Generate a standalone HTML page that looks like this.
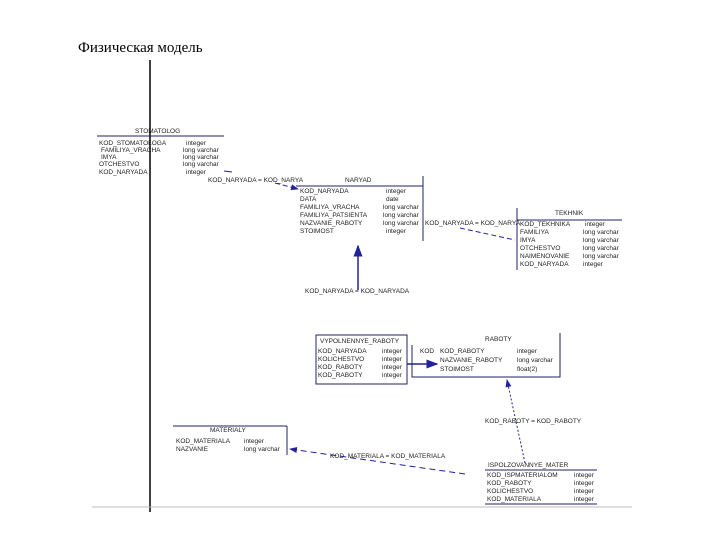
<!DOCTYPE html>
<html><head><meta charset="utf-8"><style>
html,body{margin:0;padding:0;background:#fff;width:720px;height:540px;overflow:hidden}
svg text{font-family:"Liberation Sans",sans-serif;font-size:6.5px;fill:#222}
</style></head><body>
<svg width="720" height="540" viewBox="0 0 720 540">
<defs><marker id="a" markerWidth="8" markerHeight="6" refX="7" refY="3" orient="auto"><path d="M0,0 L8,3 L0,6 Z" fill="#22229a"/></marker></defs>
<text x="78" y="52" style="font-family:'Liberation Serif',serif;font-size:15px;fill:#000">Физическая модель</text>
<line x1="150" y1="60" x2="150" y2="512" stroke="#000" stroke-width="1.5"/>
<line x1="92" y1="507" x2="632" y2="507" stroke="#bbb" stroke-width="1"/>

<!-- STOMATOLOG -->
<text x="135" y="133">STOMATOLOG</text>
<line x1="97" y1="136" x2="224" y2="136" stroke="#22226a"/>
<text x="99" y="145">KOD_STOMATOLOGA</text><text x="186" y="145">integer</text>
<text x="101" y="152">FAMILIYA_VRACHA</text><text x="183" y="152">long varchar</text>
<text x="101" y="159">IMYA</text><text x="183" y="159">long varchar</text>
<text x="99" y="166">OTCHESTVO</text><text x="183" y="166">long varchar</text>
<text x="99" y="174">KOD_NARYADA</text><text x="186" y="174">integer</text>

<!-- conn1 -->
<text x="208" y="182">KOD_NARYADA = KOD_NARYA</text>
<line x1="224" y1="171" x2="232" y2="172" stroke="#22229a"/>
<line x1="275" y1="183" x2="298" y2="189" stroke="#22229a" stroke-dasharray="5,3" marker-end="url(#a)"/>

<!-- NARYAD -->
<text x="345" y="182">NARYAD</text>
<line x1="296" y1="186" x2="423" y2="186" stroke="#22226a"/>
<line x1="423" y1="176" x2="423" y2="241" stroke="#22226a"/>
<text x="300" y="193">KOD_NARYADA</text><text x="386" y="193">integer</text>
<text x="300" y="201">DATA</text><text x="386" y="201">date</text>
<text x="300" y="209">FAMILIYA_VRACHA</text><text x="383" y="209">long varchar</text>
<text x="300" y="217">FAMILIYA_PATSIENTA</text><text x="383" y="217">long varchar</text>
<text x="300" y="225">NAZVANIE_RABOTY</text><text x="383" y="225">long varchar</text>
<text x="300" y="233">STOIMOST</text><text x="386" y="233">integer</text>

<line x1="358" y1="290" x2="358" y2="246" stroke="#22229a" stroke-width="1.5" marker-end="url(#a)"/>
<text x="305" y="293">KOD_NARYADA = KOD_NARYADA</text>

<!-- conn2 -->
<text x="425" y="225">KOD_NARYADA = KOD_NARYA</text>
<line x1="460" y1="228" x2="515" y2="240" stroke="#22229a" stroke-dasharray="5,3"/>

<!-- TEKHNIK -->
<text x="555" y="215">TEKHNIK</text>
<line x1="517" y1="220" x2="622" y2="220" stroke="#22226a"/>
<line x1="517" y1="208" x2="517" y2="270" stroke="#22226a"/>
<text x="520" y="226">KOD_TEKHNIKA</text><text x="585" y="226">integer</text>
<text x="520" y="234">FAMILIYA</text><text x="583" y="234">long varchar</text>
<text x="520" y="242">IMYA</text><text x="583" y="242">long varchar</text>
<text x="520" y="250">OTCHESTVO</text><text x="583" y="250">long varchar</text>
<text x="520" y="258">NAIMENOVANIE</text><text x="583" y="258">long varchar</text>
<text x="520" y="266">KOD_NARYADA</text><text x="583" y="266">integer</text>

<!-- VYPOLNENNYE -->
<rect x="316" y="335" width="91" height="49" fill="none" stroke="#22226a"/>
<text x="320" y="343">VYPOLNENNYE_RABOTY</text>
<text x="318" y="353">KOD_NARYADA</text><text x="382" y="353">integer</text>
<text x="318" y="361">KOLICHESTVO</text><text x="382" y="361">integer</text>
<text x="318" y="369">KOD_RABOTY</text><text x="382" y="369">integer</text>
<text x="318" y="377">KOD_RABOTY</text><text x="382" y="377">integer</text>
<line x1="407" y1="364" x2="437" y2="364" stroke="#22229a" stroke-width="1.5" marker-end="url(#a)"/>

<!-- RABOTY -->
<polyline points="412,345 412,377 560,377 560,333" fill="none" stroke="#22226a"/>
<text x="485" y="341">RABOTY</text>
<text x="420" y="353">KOD</text><text x="440" y="353">KOD_RABOTY</text><text x="517" y="353">integer</text>
<text x="440" y="362">NAZVANIE_RABOTY</text><text x="517" y="362">long varchar</text>
<text x="440" y="371">STOIMOST</text><text x="517" y="371">float(2)</text>
<line x1="525" y1="463" x2="507" y2="380" stroke="#22229a" stroke-dasharray="2,2" marker-end="url(#a)"/>
<text x="485" y="423">KOD_RABOTY = KOD_RABOTY</text>

<!-- MATERIALY -->
<text x="210" y="432">MATERIALY</text>
<line x1="173" y1="426" x2="287" y2="426" stroke="#22226a"/>
<line x1="287" y1="426" x2="287" y2="455" stroke="#22226a"/>
<text x="176" y="443">KOD_MATERIALA</text><text x="244" y="443">integer</text>
<text x="176" y="451">NAZVANIE</text><text x="244" y="451">long varchar</text>
<line x1="465" y1="474" x2="290" y2="449" stroke="#22229a" stroke-dasharray="6,4" marker-end="url(#a)"/>
<text x="330" y="458">KOD_MATERIALA = KOD_MATERIALA</text>

<!-- ISPOLZOVANNYE -->
<text x="488" y="467">ISPOLZOVANNYE_MATER</text>
<line x1="485" y1="470" x2="597" y2="470" stroke="#22226a"/>
<text x="487" y="477">KOD_ISPMATERIALOM</text><text x="574" y="477">integer</text>
<text x="487" y="485">KOD_RABOTY</text><text x="574" y="485">integer</text>
<text x="487" y="493">KOLICHESTVO</text><text x="574" y="493">integer</text>
<text x="487" y="501">KOD_MATERIALA</text><text x="574" y="501">integer</text>
<line x1="485" y1="504" x2="597" y2="504" stroke="#22226a"/>
</svg>
</body></html>
